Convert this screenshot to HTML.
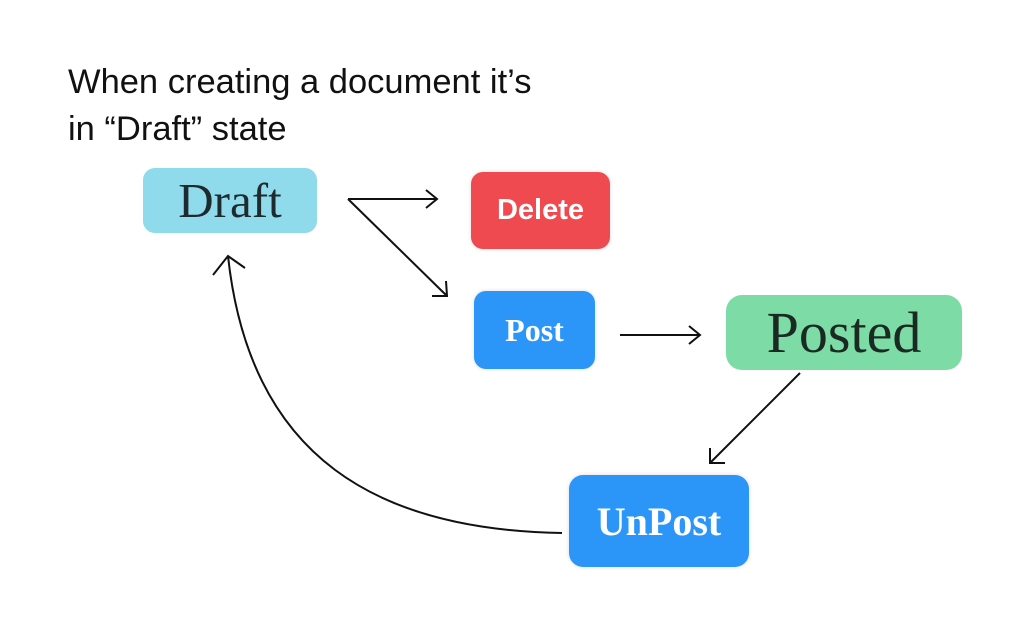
<!DOCTYPE html>
<html><head><meta charset="utf-8"><style>
body{margin:0;width:1024px;height:640px;background:#fff;position:relative;overflow:hidden}
.t{position:absolute;left:68px;font-family:"Liberation Sans",sans-serif;font-size:34.5px;color:#111;line-height:47px}
.b{position:absolute;display:flex;align-items:center;justify-content:center;border-radius:12px}
.s{font-family:"Liberation Serif",serif}
</style></head><body>
<div class="t" style="top:59px">When creating a document it’s<br>in “Draft” state</div>
<div class="b s" style="left:143px;top:168px;width:174px;height:65px;background:#8fdbeb;color:#1d2b2f;font-size:49px">Draft</div>
<div class="b" style="left:471px;top:172px;width:139px;height:77px;background:#ef4a4f;color:#fff;font-family:'Liberation Sans',sans-serif;font-weight:bold;font-size:29px;box-shadow:0 0 4px #ddd">Delete</div>
<div class="b s" style="left:474px;top:291px;width:121px;height:78px;background:#2b96f8;color:#fff;font-weight:bold;font-size:32px;box-shadow:0 0 4px #ddd">Post</div>
<div class="b s" style="left:726px;top:295px;width:236px;height:75px;background:#7ddba5;color:#1a2a22;font-size:58px;border-radius:16px">Posted</div>
<div class="b s" style="left:569px;top:475px;width:180px;height:92px;background:#2b96f8;color:#fff;font-weight:bold;font-size:40px;border-radius:14px;box-shadow:0 0 5px #ddd">UnPost</div>
<svg width="1024" height="640" style="position:absolute;left:0;top:0" fill="none" stroke="#111" stroke-width="2">
<path d="M348 199 L437 199 M426 190 L437 199 L426 208"/>
<path d="M348 199 L447 296 M432 296 L447 296 L446 281"/>
<path d="M620 335 L700 335 M689 326 L700 335 L689 344"/>
<path d="M800 373 L710 463 M710 448 L710 463 L725 463"/>
<path d="M562 533 C 380 530, 250 460, 228 256 M213 275 L228 256 L245 268"/>
</svg>
</body></html>
